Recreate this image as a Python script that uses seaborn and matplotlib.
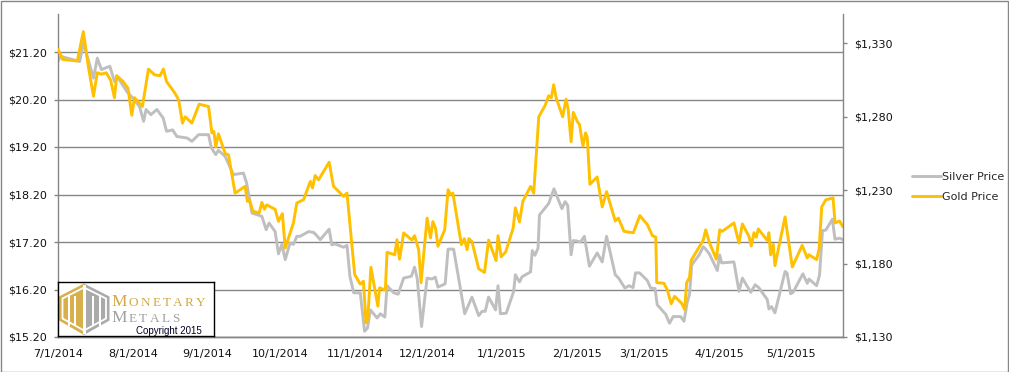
import pandas as pd
import numpy as np
import matplotlib
matplotlib.use("Agg")
import matplotlib.pyplot as plt
import matplotlib.dates as mdates
from matplotlib.patches import Polygon, Rectangle
from matplotlib.ticker import FuncFormatter, FixedLocator
import seaborn as sns

# days after 7/1/2014
gold_days = [0, 2, 8, 10.5, 12.6, 14.7, 16.3, 18, 20, 21.8, 23.4, 24.3, 27, 29, 30.6, 31.7, 35,
             37.5, 40, 42.3, 43.7, 45, 48.5, 50, 51.6, 52.7, 55.5, 58.5, 62.4, 63.8, 64.6, 65.4,
             66.5, 69.3, 70.7, 73.4, 77.6, 78.5, 79.3, 80.8, 83.4, 84.5, 85.6, 86.5, 90, 91.4, 93,
             94.2, 97.6, 99, 101.8, 104.6, 105.5, 106.6, 108, 112.4, 114.2, 118.4, 119.8, 123,
             125.3, 126.6, 127.7, 128.4, 129.7, 132.6, 133.3, 135.7, 136.4, 139.6, 140.5, 141.6,
             143.3, 146.7, 147.8, 149.5, 150.5, 153, 154.4, 155.4, 156.5, 157.5, 160.3, 161.7,
             162.7, 163.7, 167.2, 168.4, 169.6, 170.3, 171.6, 174.4, 176.8, 178.5, 181.6, 182.4,
             183.7, 185.6, 188.7, 189.6, 191.3, 192.7, 195.9, 197.2, 199.3, 202, 203.4, 204.5,
             205.5, 206.5, 209.2, 210.6, 211.5, 212.7, 213.6, 215.2, 216.2, 217.6, 218.7, 219.4,
             220.5, 223.5, 225.6, 227.4, 231, 232.3, 234.6, 238.5, 241.2, 244.3, 246.4, 247.8,
             248.2, 251.2, 252.6, 254.2, 255.6, 258.5, 259.8, 260.6, 261.8, 262.5, 267.5, 268.5,
             270.1, 272.9, 274.3, 275.4, 280.2, 282.3, 283.7, 286.4, 287.4, 288.5, 289.5, 290.3,
             294, 294.7, 295.4, 296.5, 297.2, 301.4, 304.4, 308.5, 310.6, 311.3, 314.5, 315.5,
             316.6, 318.3, 321.3, 322.1, 324, 325.4]
gold_price = [1326, 1319, 1318, 1338, 1314, 1294, 1310, 1309, 1310, 1305, 1293, 1308, 1304, 1299.5,
              1281, 1293, 1287, 1312.5, 1308.6, 1308, 1312.5, 1304, 1296, 1291.6, 1275.7, 1280,
              1275.7, 1288.6, 1287, 1269, 1270, 1259.4, 1268.4, 1255, 1254, 1228, 1232.6, 1222.4,
              1223.5, 1215.6, 1214.5, 1221.7, 1217, 1220, 1217, 1208.8, 1214, 1190.7, 1207.7,
              1221.3, 1223.5, 1236, 1231.5, 1240, 1237, 1249, 1232.6, 1225.8, 1228, 1172.5, 1166,
              1168, 1139.7, 1142, 1177.5, 1151, 1163.5, 1162, 1187.7, 1186, 1196.3, 1183, 1200.9,
              1196, 1199, 1189.5, 1167, 1211, 1197.5, 1208.6, 1204, 1191.8, 1203, 1230.3, 1227,
              1228, 1193, 1197, 1189.5, 1197, 1195, 1176.4, 1174, 1196, 1182, 1199, 1184.6, 1188,
              1204.3, 1218, 1208.4, 1222.4, 1232.6, 1228, 1280, 1288, 1294.3, 1293, 1301.8, 1293,
              1280, 1292, 1285, 1263, 1283, 1277, 1274.6, 1260, 1269, 1266, 1234, 1239, 1218.6,
              1229, 1209, 1211, 1202, 1201, 1212.7, 1206.6, 1199, 1198, 1167, 1166.6, 1162,
              1152.6, 1157.7, 1153, 1148.7, 1167, 1170.6, 1182.2, 1196, 1203, 1194, 1183, 1203,
              1202, 1207.7, 1194, 1207, 1198.7, 1192, 1201, 1198, 1203.6, 1195.8, 1201, 1186,
              1193, 1178.6, 1211.8, 1177.7, 1192.4, 1183.8, 1186, 1182.7, 1190, 1218.6, 1223.5,
              1224.7, 1207.7, 1209, 1205]

silver_days = [0, 1, 9, 10.5, 14.7, 16.3, 18, 21.5, 23.4, 25, 28.5, 31, 33.8, 35.5, 36.5, 38.5,
               41, 43.6, 45, 47.5, 49.3, 53.5, 55.5, 58.3, 62.4, 63.6, 65.4, 66.5, 69.3, 72.7,
               76.9, 78.2, 80.4, 84.5, 86.3, 87.5, 90, 91.4, 92.8, 94.2, 96.2, 97.6, 99, 100.4,
               103.9, 106, 107, 108.7, 112.4, 113.5, 114.8, 118.4, 119.8, 121, 122.6, 125.3,
               127.1, 128.3, 129.5, 132.3, 133.6, 135.5, 136.4, 139.2, 141, 143.3, 146.5, 147.8,
               148.9, 150.7, 153, 155, 156.4, 157.5, 160.5, 161.7, 164, 168.6, 171.6, 174.4,
               175.8, 177.1, 178.5, 181.4, 182.4, 183.4, 185.8, 188.9, 189.6, 191.3, 192.4, 195.9,
               196.6, 197.7, 199, 199.6, 203.4, 205.6, 208.9, 210.2, 211.3, 212.7, 213.6, 215.2,
               216.6, 218.2, 220.3, 223.5, 225.6, 227.4, 231, 232.4, 235, 236.7, 238.4, 239.4,
               241.1, 244.3, 245.7, 247.5, 248.4, 250.8, 251.9, 253.5, 255, 258.1, 259.5, 260.8,
               261.8, 262.7, 265.7, 267.5, 268.5, 270, 273.3, 274.3, 275.1, 280.2, 282.3, 283.7,
               287.2, 289, 290.5, 294, 294.7, 295.8, 297.2, 301.4, 302.2, 303.7, 304.7, 308.8,
               310.6, 311.3, 314.5, 315.7, 316.9, 318.3, 321, 322.1, 324, 325.4]
silver_price = [21.0, 21.11, 21.0, 21.39, 20.65, 21.07, 20.83, 20.9, 20.58, 20.65, 20.37, 20.23,
                20.05, 19.74, 19.99, 19.88, 19.99, 19.81, 19.53, 19.56, 19.42, 19.39, 19.32, 19.46,
                19.46, 19.18, 19.04, 19.13, 19.0, 18.62, 18.65, 18.44, 17.81, 17.74, 17.46, 17.6,
                17.42, 16.95, 17.15, 16.83, 17.18, 17.15, 17.32, 17.32, 17.42, 17.4, 17.35, 17.25,
                17.47, 17.14, 17.16, 17.09, 17.13, 16.48, 16.13, 16.13, 15.32, 15.39, 15.77, 15.6,
                15.69, 15.62, 16.28, 16.13, 16.1, 16.44, 16.48, 16.67, 16.44, 15.42, 16.44, 16.42,
                16.46, 16.25, 16.32, 17.05, 17.05, 15.69, 16.04, 15.65, 15.74, 15.74, 16.04, 15.77,
                16.28, 15.69, 15.7, 16.16, 16.51, 16.36, 16.47, 16.57, 17.02, 16.92, 17.07, 17.77,
                18.01, 18.32, 17.9, 18.05, 17.97, 16.93, 17.23, 17.22, 17.2, 17.32, 16.69, 16.97,
                16.78, 17.32, 16.51, 16.44, 16.23, 16.28, 16.24, 16.55, 16.55, 16.39, 16.23, 16.22,
                15.88, 15.74, 15.68, 15.49, 15.63, 15.63, 15.53, 15.92, 16.1, 16.72, 16.92, 17.1,
                17.05, 16.95, 16.6, 16.93, 16.76, 16.78, 16.16, 16.44, 16.14, 16.3, 16.24, 15.99,
                15.79, 15.84, 15.71, 16.58, 16.55, 16.11, 16.14, 16.53, 16.33, 16.42, 16.28, 16.51,
                17.44, 17.45, 17.68, 17.26, 17.28, 17.25]

silver_ticks = [15.2, 16.2, 17.2, 18.2, 19.2, 20.2, 21.2]
gold_ticks = [1130, 1180, 1230, 1280, 1330]

start = pd.Timestamp("2014-07-01")
gold = pd.DataFrame({"date": start + pd.to_timedelta(gold_days, unit="D"), "price": gold_price})
silver = pd.DataFrame({"date": start + pd.to_timedelta(silver_days, unit="D"), "price": silver_price})

sns.set_style("white")
plt.rcParams["font.family"] = ["DejaVu Sans"]
GRID = "#868686"

W, H = 1009, 372
fig = plt.figure(figsize=(W / 100, H / 100), dpi=100)
ax = fig.add_axes([58 / W, 1 - 337 / H, (843 - 58) / W, (337 - 14) / H])
ax2 = ax.twinx()

sns.lineplot(data=silver, x="date", y="price", ax=ax, color="#BFBFBF", linewidth=2.1,
             label="Silver Price", legend=False)
sns.lineplot(data=gold, x="date", y="price", ax=ax2, color="#FFC000", linewidth=2.1,
             label="Gold Price", legend=False)

ax.set_xlim(start, pd.Timestamp("2015-05-22 10:00"))
ax.set_ylim(15.2, 22.0)
ax2.set_ylim(1130, 1350)
ax.yaxis.set_major_locator(FixedLocator(silver_ticks))
ax2.yaxis.set_major_locator(FixedLocator(gold_ticks))
ax.yaxis.set_major_formatter(FuncFormatter(lambda v, p: f"${v:.2f}"))
ax2.yaxis.set_major_formatter(FuncFormatter(lambda v, p: f"${v:,.0f}"))
ax.xaxis.set_major_locator(mdates.MonthLocator())
ax.xaxis.set_major_formatter(FuncFormatter(
    lambda v, p: f"{mdates.num2date(v).month}/{mdates.num2date(v).day}/{mdates.num2date(v).year}"))

ax.grid(axis="y", color=GRID, linewidth=1.0)
ax.grid(axis="x", visible=False)
for a in (ax, ax2):
    a.set_xlabel("")
    a.set_ylabel("")
    a.spines["top"].set_visible(False)
    for s in ("left", "right", "bottom"):
        a.spines[s].set_color(GRID)
        a.spines[s].set_linewidth(1.0)
    a.tick_params(which="both", length=3, width=1, color=GRID, labelsize=8, labelcolor="#111111",
                  pad=5, direction="out")
ax.spines["right"].set_visible(False)
ax2.spines["left"].set_visible(False)
ax.tick_params(axis="x", pad=6)
ax.tick_params(axis="y", left=True)
ax2.tick_params(axis="y", right=True)

# legend
h1, l1 = ax.get_legend_handles_labels()
h2, l2 = ax2.get_legend_handles_labels()
fig.legend(h1 + h2, l1 + l2, loc="center left", bbox_to_anchor=(902 / W, 1 - 187 / H),
           frameon=False, fontsize=8, handlelength=2.6, handletextpad=0.1, labelspacing=0.9)

# logo box (drawn in pixel units)
lg = fig.add_axes([58 / W, 1 - 336 / H, (214 - 58) / W, (336 - 282) / H])
lg.set_xlim(58, 214)
lg.set_ylim(336, 282)
lg.set_xticks([])
lg.set_yticks([])
lg.set_facecolor("white")
for s in lg.spines.values():
    s.set_color("black")
    s.set_linewidth(1.0)
cx = 84
lg.add_patch(Polygon([(59, 296.5), (cx, 283.5), (cx, 335), (59, 320.5)], closed=True,
                     facecolor="#D7B04C", edgecolor="none"))
lg.add_patch(Polygon([(cx, 283.5), (109.5, 296.5), (109.5, 320.5), (cx, 335)], closed=True,
                     facecolor="#AAAAAA", edgecolor="none"))
lg.add_patch(Polygon([(62.5, 298.5), (cx, 287.5), (106, 298.5), (106, 318.5), (cx, 330.5),
                      (62.5, 318.5)], closed=True, facecolor="none", edgecolor="white",
                     linewidth=1.3))
lg.add_patch(Rectangle((cx - 1.5, 285), 3, 49, facecolor="white", edgecolor="none"))
for bx in (68.5, 75.2, 92.8, 99.5):
    lg.add_patch(Rectangle((bx - 1.0, 296), 2.0, 30, facecolor="white", edgecolor="none"))

renderer = fig.canvas.get_renderer()


def small_caps(x, y, word, color, big, small, track):
    for i, ch in enumerate(word):
        t = lg.text(x, y, ch, fontsize=big if i == 0 else small, color=color,
                    family="Liberation Serif", va="baseline", ha="left")
        x += t.get_window_extent(renderer).width + track


small_caps(111, 306.5, "MONETARY", "#D2A942", 12.5, 9.5, 2.3)
small_caps(111, 322.5, "METALS", "#A0A0A0", 12.5, 9.5, 2.3)
lg.text(136, 330.5, "Copyright 2015", fontsize=7, family="Liberation Sans", color="#000022",
        va="center", ha="left")

# chart frame
fig.add_artist(Rectangle((0.5 / W, 0.5 / H), 1 - 1.5 / W, 1 - 1.5 / H, transform=fig.transFigure,
                         fill=False, edgecolor=GRID, linewidth=1.0))

fig.savefig("out.png", dpi=100)
